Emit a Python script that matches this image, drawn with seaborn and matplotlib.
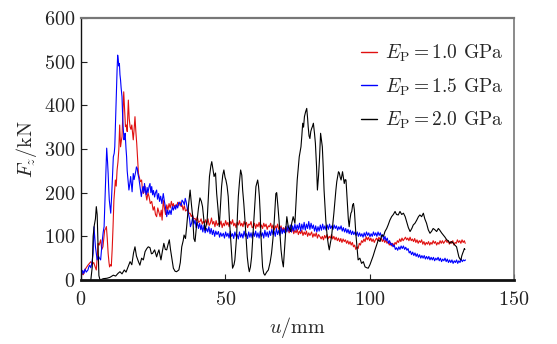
import matplotlib
matplotlib.use("Agg")
import matplotlib.pyplot as plt
import seaborn as sns
import pandas as pd

labels = [r"$E_{\mathrm{P}} = 1.0$ GPa", r"$E_{\mathrm{P}} = 1.5$ GPa", r"$E_{\mathrm{P}} = 2.0$ GPa"]
colors = ["#e01010", "#0000ff", "#000000"]

# (u [mm], Fz [kN])
red_pts = [
(0.0,10),(0.4,15),(0.8,12),(1.3,23),(1.8,28),(2.4,34),(2.9,38),(3.4,42),(3.9,36),(4.4,40),(4.9,30),(5.3,23),
(5.6,50),(5.9,84),(6.3,80),(6.8,92),(7.2,70),(7.6,76),(8.0,100),(8.2,114),(8.6,118),(8.8,122),(9.1,95),(9.4,61),
(9.7,40),(9.9,30),(10.2,35),(10.5,32),(10.8,70),(11.1,122),(11.4,183),(11.6,200),(11.9,229),(12.2,215),(12.5,252),
(12.8,270),(13.1,298),(13.4,355),(13.7,305),(14.0,320),(14.2,328),(14.5,380),(14.8,431),(15.1,390),(15.4,351),
(15.7,355),(16.0,340),(16.4,412),(16.7,370),(17.0,351),(17.3,345),(17.6,355),(18.1,321),(18.4,345),(18.7,374),
(19.0,340),(19.3,313),(19.6,280),(19.9,244),(20.2,235),(20.6,225),(21.0,229),(21.3,205),(21.6,198),(22.0,215),
(22.2,214),(22.5,195),(22.8,183),(23.2,200),(23.6,190),(24.0,175),(24.5,180),(25.0,160),(25.4,168),(25.8,150),
(26.2,145),(26.6,165),(27.0,155),(27.4,145),(27.8,160),(28.1,137),(28.5,183),(28.9,165),(29.3,150),(29.7,172),
(30.1,160),(30.5,175),(30.9,165),(31.3,180),(31.7,168),(32.0,175),(32.4,165),(32.8,172),(33.1,168),(33.5,178),
(33.9,170),(34.3,179),(34.7,168),(35.0,172),(35.4,160),(35.8,170),(36.2,158),(36.6,160),(37.0,165),(37.4,152),
(37.8,153),(38.2,145),(38.6,150),(39.0,140),(39.5,141),(39.9,135),(40.3,145),(40.7,132),(41.2,134),(41.6,140),
(42.0,128),(42.4,135),(42.8,130),(43.2,138),(43.6,126),(44.0,140),(44.4,125),(44.8,130),(45.2,142),(45.6,128),
(46.0,134),(46.4,122),(46.8,136),(47.2,125),(47.6,130),(48.1,126),(48.5,135),(48.9,120),(49.3,130),(49.7,124),
(50.1,136),(50.5,126),(50.9,132),(51.3,122),(51.7,134),(52.1,128),(52.5,138),(52.9,124),(53.3,130),(53.7,120),
(54.1,132),(54.5,126),(54.9,136),(55.3,124),(55.7,130),(56.1,122),(56.5,134),(56.9,126),(57.3,132),(57.7,120),
(58.1,128),(58.5,126),(58.9,134),(59.3,120),(59.7,122),(60.1,130),(60.5,118),(60.9,128),(61.3,122),(61.7,132),
(62.1,120),(62.5,126),(62.9,118),(63.3,130),(63.7,122),(64.1,128),(64.5,116),(64.9,124),(65.3,122),(65.7,130),
(66.1,118),(66.5,126),(66.9,114),(67.3,124),(67.7,118),(68.1,128),(68.5,116),(68.9,118),(69.3,124),(69.7,112),
(70.1,120),(70.5,114),(70.9,122),(71.3,112),(71.7,118),(72.1,108),(72.5,116),(72.9,110),(73.3,118),(73.7,106),
(74.1,114),(74.5,108),(74.9,116),(75.3,104),(75.7,112),(76.1,106),(76.5,114),(76.9,102),(77.3,110),(77.7,104),
(78.1,112),(78.5,100),(78.9,108),(79.3,102),(79.9,110),(80.3,98),(80.7,106),(81.1,100),(81.5,108),(81.9,96),
(82.3,104),(82.8,99),(83.2,94),(83.6,100),(84.0,92),(84.4,102),(84.8,96),(85.2,104),(85.6,94),(86.0,100),
(86.4,96),(86.8,104),(87.2,94),(87.6,100),(88.0,92),(88.4,98),(88.8,90),(89.2,96),(89.6,88),(90.0,95),(90.4,86),
(90.8,94),(91.2,88),(91.6,92),(92.0,84),(92.4,90),(92.8,82),(93.2,88),(93.6,80),(94.0,86),(94.4,76),(94.8,80),
(95.2,70),(95.6,76),(96.0,72),(96.4,84),(96.8,80),(97.2,90),(97.6,86),(98.0,94),(98.4,88),(98.8,99),(99.2,92),
(99.6,98),(100.0,90),(100.4,96),(100.8,88),(101.2,94),(101.6,86),(102.0,92),(102.4,96),(102.8,90),(103.2,98),
(103.6,92),(104.0,96),(104.4,88),(104.8,94),(105.2,86),(105.6,92),(106.0,84),(106.4,88),(106.8,80),(107.2,86),
(107.6,78),(108.0,84),(108.4,78),(108.8,86),(109.2,82),(109.6,90),(110.0,86),(110.4,94),(110.8,88),(111.2,96),
(111.6,90),(112.0,94),(112.4,98),(112.8,92),(113.2,96),(113.6,90),(114.0,98),(114.4,90),(114.8,94),(115.2,88),
(115.6,95),(116.0,86),(116.4,92),(116.8,84),(117.2,90),(117.6,86),(118.0,92),(118.4,82),(118.8,88),(119.2,80),
(119.6,86),(120.0,82),(120.4,88),(120.8,80),(121.2,86),(121.6,82),(122.0,90),(122.4,84),(122.8,88),(123.2,80),
(123.6,86),(124.0,82),(124.4,90),(124.8,84),(125.2,90),(125.6,84),(126.0,88),(126.4,92),(126.8,86),(127.2,90),
(127.6,82),(128.0,88),(128.4,84),(128.8,90),(129.2,80),(129.6,86),(130.0,84),(130.4,92),(130.8,86),(131.2,90),
(131.6,84),(132.0,92),(132.4,86),(132.8,90),(133.1,84),
]

blue_pts = [
(0.0,20),(0.3,12),(0.6,22),(1.0,15),(1.4,25),(1.8,18),(2.4,23),(2.7,30),(3.0,34),(3.4,28),(3.8,40),(4.2,61),
(4.5,122),(4.8,95),(5.0,76),(5.3,60),(5.6,46),(6.0,55),(6.4,50),(6.8,46),(7.1,70),(7.4,92),(7.7,110),(8.0,122),
(8.4,202),(8.7,260),(8.9,302),(9.2,270),(9.4,244),(9.6,210),(9.8,183),(10.1,165),(10.3,153),(10.6,190),(10.8,221),
(11.0,250),(11.2,282),(11.5,290),(11.7,305),(11.9,350),(12.1,397),(12.3,440),(12.5,481),(12.7,515),(12.9,505),
(13.1,490),(13.3,496),(13.5,470),(13.7,458),(13.9,440),(14.2,420),(14.4,380),(14.6,351),(14.9,321),(15.1,330),
(15.3,336),(15.6,300),(15.8,282),(16.0,250),(16.3,229),(16.6,206),(16.9,220),(17.2,237),(17.5,215),(17.7,202),
(18.1,244),(18.4,230),(18.7,240),(19.0,250),(19.2,259),(19.5,255),(19.7,244),(20.0,235),(20.3,221),(20.6,205),
(20.9,191),(21.2,205),(21.5,214),(21.8,200),(22.0,221),(22.3,205),(22.6,195),(22.9,212),(23.2,200),(23.6,215),
(23.9,221),(24.2,200),(24.5,214),(24.8,195),(25.1,205),(25.5,190),(25.8,200),(26.2,206),(26.5,185),(26.9,198),
(27.2,180),(27.6,192),(28.0,175),(28.5,198),(28.9,180),(29.3,165),(29.7,145),(30.0,160),(30.4,150),(30.8,160),
(31.2,150),(31.6,168),(32.0,160),(32.4,170),(32.8,162),(33.1,172),(33.5,165),(33.9,178),(34.3,175),(34.7,170),
(35.0,183),(35.4,179),(35.8,172),(36.1,187),(36.4,180),(36.8,165),(37.2,153),(37.6,140),(37.9,122),(38.3,130),
(38.7,145),(39.1,128),(39.5,137),(39.9,120),(40.3,132),(40.7,118),(41.1,130),(41.5,115),(41.8,126),(42.2,110),
(42.6,125),(43.0,108),(43.5,118),(43.9,110),(44.3,122),(44.7,106),(45.1,118),(45.5,104),(45.9,114),(46.3,100),
(46.7,112),(47.1,104),(47.6,111),(48.0,98),(48.4,108),(48.8,100),(49.3,107),(49.7,96),(50.1,110),(50.5,100),
(50.9,107),(51.3,96),(51.7,112),(52.1,100),(52.5,106),(52.9,95),(53.3,110),(53.7,100),(54.1,104),(54.5,94),
(54.9,110),(55.3,98),(55.7,106),(56.1,96),(56.5,112),(56.9,100),(57.3,106),(57.7,95),(58.1,110),(58.5,98),
(58.9,108),(59.3,96),(59.7,110),(60.1,100),(60.5,112),(60.9,98),(61.3,108),(61.7,96),(62.1,112),(62.5,100),
(62.9,108),(63.3,96),(63.7,114),(64.1,100),(64.5,110),(64.9,98),(65.3,112),(65.7,102),(66.1,116),(66.5,104),
(66.9,112),(67.3,100),(67.7,118),(68.1,104),(68.5,114),(68.9,102),(69.3,120),(69.7,106),(70.1,116),(70.5,108),
(70.9,122),(71.3,110),(71.7,124),(72.1,112),(72.5,126),(72.9,110),(73.3,124),(73.7,112),(74.1,128),(74.5,114),
(74.9,126),(75.3,116),(75.7,130),(76.1,112),(76.5,128),(76.9,116),(77.3,132),(77.7,114),(78.1,128),(78.5,118),
(78.9,134),(79.3,116),(79.7,130),(80.1,118),(80.5,126),(80.9,112),(81.3,124),(81.7,110),(82.1,122),(82.5,112),
(82.9,126),(83.3,114),(83.7,128),(84.1,116),(84.5,124),(84.9,114),(85.3,126),(85.7,116),(86.1,128),(86.5,118),
(86.9,124),(87.3,116),(87.7,126),(88.1,118),(88.5,124),(88.9,114),(89.3,122),(89.7,116),(90.1,124),(90.5,112),
(90.9,120),(91.3,110),(91.7,118),(92.1,108),(92.5,116),(92.9,106),(93.3,114),(93.7,104),(94.1,112),(94.5,104),
(94.9,110),(95.3,102),(95.7,110),(96.1,100),(96.5,108),(96.9,100),(97.3,106),(97.7,98),(98.1,108),(98.5,100),
(98.9,110),(99.3,102),(99.7,108),(100.1,99),(100.5,106),(100.9,100),(101.3,110),(101.7,102),(102.1,108),
(102.5,100),(102.9,110),(103.3,102),(103.7,108),(104.1,98),(104.5,104),(104.9,92),(105.3,100),(105.7,90),
(106.1,96),(106.5,84),(106.9,90),(107.3,80),(107.7,84),(108.1,76),(108.5,80),(108.9,70),(109.3,74),(109.7,68),
(110.1,76),(110.5,70),(110.9,78),(111.3,72),(111.7,78),(112.1,70),(112.5,75),(112.9,68),(113.3,72),(113.7,62),
(114.1,66),(114.5,58),(114.9,64),(115.3,56),(115.7,62),(116.1,54),(116.5,60),(116.9,52),(117.3,58),(117.7,50),
(118.1,56),(118.5,50),(118.9,56),(119.3,48),(119.7,54),(120.1,48),(120.5,54),(120.9,46),(121.3,52),(121.7,46),
(122.1,52),(122.5,44),(122.9,50),(123.3,46),(123.7,52),(124.1,44),(124.5,50),(124.9,42),(125.3,48),(125.7,44),
(126.1,50),(126.5,42),(126.9,48),(127.3,40),(127.7,46),(128.1,40),(128.5,46),(128.9,38),(129.3,44),(129.7,40),
(130.1,46),(130.5,38),(130.9,44),(131.3,40),(131.7,48),(132.1,42),(132.5,46),(132.9,44),(133.2,46),
]

black_pts = [
(3.4,0),(3.9,30),(4.2,100),(4.6,125),(5.0,140),(5.3,168),(5.6,150),(5.9,80),(6.2,10),(6.6,0),(7.7,3),(9.0,4),
(10.0,6),(11.2,11),(12.0,9),(12.8,15),(13.5,19),(14.2,14),(15.0,23),(15.6,18),(16.3,30),(17.0,42),(17.6,35),
(18.2,62),(18.7,76),(19.2,55),(19.9,42),(20.4,34),(21.0,50),(21.6,46),(22.2,65),(22.8,72),(23.3,76),(23.9,74),
(24.4,60),(24.8,61),(25.5,69),(26.2,53),(26.6,62),(27.0,69),(27.7,46),(28.2,66),(28.7,84),(29.2,70),(29.7,69),
(30.1,80),(30.6,92),(31.0,70),(31.4,53),(32.0,27),(32.6,20),(33.1,19),(33.9,23),(34.4,40),(34.9,76),(35.4,90),
(35.7,103),(36.2,95),(36.6,122),(37.2,168),(37.8,206),(38.3,170),(38.7,145),(39.1,95),(39.5,88),(40.1,130),
(40.7,165),(41.2,188),(41.7,180),(42.1,168),(42.6,135),(43.0,114),(43.7,137),(44.2,200),(44.5,237),(45.0,262),
(45.3,271),(45.8,250),(46.1,237),(46.6,245),(47.0,198),(47.5,160),(47.9,122),(48.3,170),(48.7,214),(49.1,240),
(49.5,252),(49.9,235),(50.2,229),(50.6,215),(51.0,191),(51.4,140),(51.8,99),(52.2,55),(52.5,27),(53.0,35),
(53.3,46),(53.9,99),(54.2,150),(54.5,191),(54.9,225),(55.3,252),(55.7,240),(56.0,206),(56.4,175),(56.8,137),
(57.2,95),(57.6,53),(58.0,30),(58.3,19),(58.7,30),(59.1,53),(59.5,95),(59.9,137),(60.3,180),(60.6,214),
(61.2,229),(61.5,215),(61.8,191),(62.1,150),(62.3,107),(62.6,65),(62.9,30),(63.3,15),(63.7,11),(64.3,18),
(64.9,23),(65.5,40),(66.0,61),(66.5,95),(66.9,130),(67.2,165),(67.5,198),(67.8,200),(68.2,170),(68.6,137),
(69.0,100),(69.3,69),(69.7,45),(70.1,30),(70.4,60),(70.7,92),(71.0,120),(71.3,145),(71.8,122),(72.2,118),
(72.6,111),(73.0,130),(73.5,145),(74.1,130),(74.5,180),(74.9,229),(75.3,260),(75.6,282),(76.2,305),(76.5,330),
(76.8,359),(77.1,350),(77.4,374),(77.8,385),(78.2,393),(78.5,370),(78.7,351),(79.0,330),(79.3,324),(79.6,340),
(79.9,347),(80.2,352),(80.5,359),(80.9,335),(81.2,313),(81.6,260),(81.9,206),(82.3,240),(82.6,275),(83.0,336),
(83.3,320),(83.6,305),(83.9,260),(84.2,206),(84.5,170),(84.8,137),(85.3,99),(85.7,80),(86.0,69),(86.4,85),
(86.8,99),(87.2,125),(87.6,153),(88.0,185),(88.3,206),(88.6,225),(88.9,237),(89.2,248),(89.5,245),(89.8,235),
(90.1,229),(90.4,240),(90.6,248),(90.9,235),(91.2,221),(91.5,230),(91.8,229),(92.1,195),(92.3,168),(92.6,140),
(92.9,122),(93.2,140),(93.5,153),(93.8,157),(94.1,172),(94.4,175),(94.7,160),(95.0,130),(95.2,107),(95.6,75),
(96.0,46),(96.6,50),(97.2,38),(97.8,42),(98.4,30),(99.0,28),(99.5,27),(100.1,35),(100.7,46),(101.2,55),
(101.8,68),(102.4,80),(103.0,92),(103.6,88),(104.2,103),(104.8,100),(105.3,111),(105.9,118),(106.4,126),
(107.0,137),(107.6,145),(108.2,150),(108.8,157),(109.3,150),(109.9,149),(110.5,157),(111.1,150),(111.7,153),
(112.3,145),(112.8,134),(113.4,120),(114.0,111),(114.6,118),(115.1,126),(115.7,130),(116.3,137),(116.9,145),
(117.4,149),(118.0,145),(118.6,153),(119.1,140),(119.7,130),(120.3,115),(120.9,107),(121.5,112),(122.0,118),
(122.6,115),(123.2,111),(123.8,118),(124.3,114),(124.9,108),(125.5,103),(126.1,98),(126.7,92),(127.2,90),
(127.8,84),(128.4,88),(129.0,84),(129.5,80),(130.1,76),(130.5,65),(130.9,53),(131.3,48),(131.6,46),(131.9,55),
(132.2,61),(132.5,66),(132.8,72),(133.0,70),
]

x_ticks = [0, 50, 100, 150]
y_ticks = [0, 100, 200, 300, 400, 500, 600]

frames = []
for lab, pts in zip(labels, [red_pts, blue_pts, black_pts]):
    frames.append(pd.DataFrame({"u": [p[0] for p in pts], "F": [p[1] for p in pts], "series": lab}))
df = pd.concat(frames, ignore_index=True)

sns.set_theme(style="ticks")
plt.rcParams.update({
    "font.family": "serif",
    "font.serif": ["cmr10", "DejaVu Serif"],
    "mathtext.fontset": "cm",
    "axes.formatter.use_mathtext": True,
})

fig = plt.figure(figsize=(5.57, 3.44), dpi=100)
ax = fig.add_axes([81/557, 1 - 280/344, (514-81)/557, (280-18)/344])

sns.lineplot(data=df, x="u", y="F", hue="series", palette=colors, sort=False,
             estimator=None, linewidth=0.8, ax=ax, legend=True)

ax.set_xlim(0, 150)
ax.set_ylim(0, 600)
ax.set_xticks(x_ticks)
ax.set_yticks(y_ticks)
ax.tick_params(direction="in", length=4, width=0.8, labelsize=14.5, colors="#222222")
ax.tick_params(axis="x", pad=8)
ax.tick_params(axis="y", pad=4)
ax.tick_params(axis="both", which="both", top=False, right=False)
ax.set_xlabel(r"$u/\mathrm{mm}$", fontsize=14.5, labelpad=4)
ax.set_ylabel(r"$F_z/\mathrm{kN}$", fontsize=14.5, labelpad=4)

for side in ["left", "bottom"]:
    ax.spines[side].set_color("#111111")
ax.spines["left"].set_linewidth(1.0)
ax.spines["bottom"].set_linewidth(2.0)
ax.spines["top"].set_color("#777777")
ax.spines["top"].set_linewidth(1.6)
ax.spines["right"].set_color("#777777")
ax.spines["right"].set_linewidth(1.2)

leg = ax.legend(loc="upper right", bbox_to_anchor=(0.975, 0.905), frameon=False, fontsize=14,
                handlelength=0.85, handletextpad=0.4, labelspacing=0.62,
                borderpad=0, borderaxespad=0)
for line in leg.get_lines():
    line.set_linewidth(1.0)

fig.savefig("out.png", dpi=100)
